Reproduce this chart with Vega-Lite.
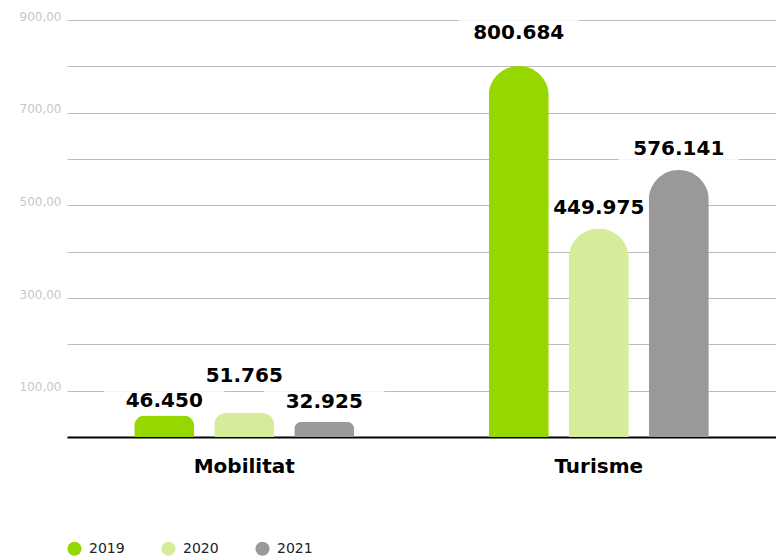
{
  "$schema": "https://vega.github.io/schema/vega-lite/v6.json",
  "autosize": "none",
  "width": 709,
  "height": 417,
  "padding": {"left": 67, "top": 20, "right": 0, "bottom": 123},
  "background": "white",
  "config": {"view": {"stroke": null}, "font": "DejaVu Sans"},
  "data": {
    "values": [
      {"category": "Mobilitat", "year": "2019", "value": 46.450},
      {"category": "Mobilitat", "year": "2020", "value": 51.765},
      {"category": "Mobilitat", "year": "2021", "value": 32.925},
      {"category": "Turisme", "year": "2019", "value": 800.684},
      {"category": "Turisme", "year": "2020", "value": 449.975},
      {"category": "Turisme", "year": "2021", "value": 576.141}
    ]
  },
  "encoding": {
    "x": {
      "field": "category",
      "type": "nominal",
      "scale": {"paddingInner": 0, "paddingOuter": 0},
      "axis": {
        "title": null,
        "labelAngle": 0,
        "labelFont": "DejaVu Sans",
        "labelFontWeight": "bold",
        "labelFontSize": 20,
        "labelColor": "#000000",
        "labelPadding": 19,
        "ticks": false,
        "domainColor": "#000000",
        "domainWidth": 2
      }
    },
    "xOffset": {
      "field": "year",
      "type": "nominal",
      "scale": {"paddingInner": 0.25, "paddingOuter": 0.84}
    },
    "y": {
      "field": "value",
      "type": "quantitative",
      "scale": {"domain": [0, 900], "nice": false},
      "axis": {
        "title": null,
        "values": [0, 100, 200, 300, 400, 500, 600, 700, 800, 900],
        "labelExpr": "datum.value % 200 == 100 ? replace(format(datum.value, '.2f'), '.', ',') : ''",
        "labelColor": "#c8c8c8",
        "labelFontSize": 12,
        "labelPadding": 6,
        "labelOffset": -4,
        "ticks": false,
        "domain": false,
        "gridColor": "#bdbdbd",
        "gridWidth": 1
      }
    }
  },
  "layer": [
    {
      "mark": {
        "type": "point",
        "shape": "M-4,-1H4V1H-4Z",
        "size": 900,
        "filled": true,
        "color": "white",
        "opacity": 0.85,
        "strokeWidth": 0,
        "yOffset": {"expr": "datum.category == 'Turisme' ? (datum.year == '2019' ? -33 : -21) : (datum.year == '2020' ? -37 : (datum.year == '2019' ? -14 : -20))"}
      },
      "encoding": {}
    },
    {
      "mark": {
        "type": "bar",
        "cornerRadiusTopLeft": 30,
        "cornerRadiusTopRight": 30
      },
      "encoding": {
        "color": {
          "field": "year",
          "type": "nominal",
          "scale": {"domain": ["2019", "2020", "2021"], "range": ["#97d700", "#d5ec9b", "#999999"]},
          "legend": {
            "title": null,
            "orient": "none",
            "direction": "horizontal",
            "legendX": 0,
            "legendY": 521,
            "symbolType": "circle",
            "symbolSize": 200,
            "symbolStrokeWidth": 0,
            "labelFontSize": 14,
            "labelColor": "#222222",
            "labelOffset": 7,
            "columnPadding": 36
          }
        }
      }
    },
    {
      "mark": {
        "type": "text",
        "font": "DejaVu Sans",
        "fontWeight": "bold",
        "fontSize": 20,
        "color": "#000000",
        "baseline": "middle",
        "align": "center",
        "dy": {"expr": "datum.category == 'Turisme' ? (datum.year == '2019' ? -33 : -21) : (datum.year == '2020' ? -37 : (datum.year == '2019' ? -14 : -20))"}
      },
      "encoding": {
        "text": {"field": "value", "type": "quantitative", "format": ".3f"}
      }
    }
  ]
}
